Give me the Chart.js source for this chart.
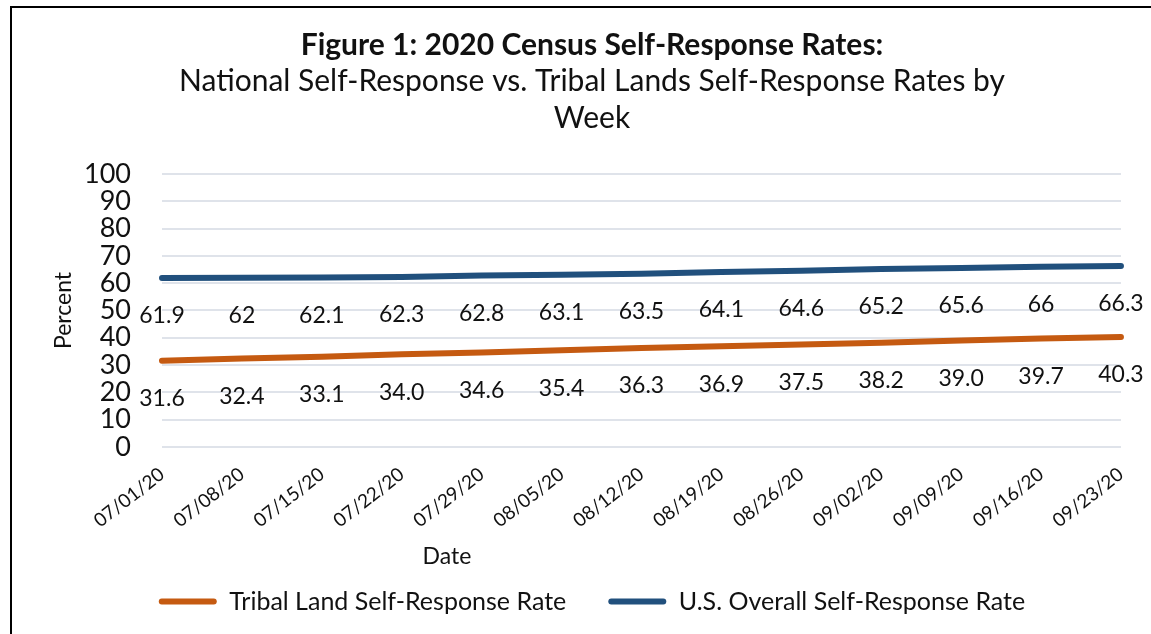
<!DOCTYPE html>
<html>
<head>
<meta charset="utf-8">
<script src="https://cdn.jsdelivr.net/npm/chart.js@4.4.1/dist/chart.umd.min.js"></script>
<style>
  html, body { margin: 0; padding: 0; background: #ffffff; }
  #wrap { width: 1151px; height: 634px; position: relative; }
</style>
</head>
<body>
<div id="wrap"><canvas id="c" width="1151" height="634"></canvas></div>
<script>
// ---- data ----
const dates = ['07/01/20','07/08/20','07/15/20','07/22/20','07/29/20','08/05/20','08/12/20','08/19/20','08/26/20','09/02/20','09/09/20','09/16/20','09/23/20'];
const tribalRates = [31.6, 32.4, 33.1, 34.0, 34.6, 35.4, 36.3, 36.9, 37.5, 38.2, 39.0, 39.7, 40.3];
const usRates = [61.9, 62, 62.1, 62.3, 62.8, 63.1, 63.5, 64.1, 64.6, 65.2, 65.6, 66, 66.3];
const yTicks = [0, 10, 20, 30, 40, 50, 60, 70, 80, 90, 100];
const titleText = 'Figure 1: 2020 Census Self-Response Rates:';
const subtitleLines = ['National Self-Response vs. Tribal Lands Self-Response Rates by', 'Week'];

const BLUE = '#21507D';
const ORANGE = '#C55A11';
const FONT = 'Lato, "Open Sans", sans-serif';

const framePlugin = {
  id: 'frame',
  beforeDraw(chart) {
    const ctx = chart.ctx;
    ctx.save();
    ctx.fillStyle = '#ffffff';
    ctx.fillRect(0, 0, chart.width, chart.height);
    ctx.fillStyle = '#000000';
    ctx.fillRect(10, 6, 2, chart.height - 6);
    ctx.fillRect(10, 6, chart.width - 10, 2);
    ctx.restore();
  }
};

const labelPlugin = {
  id: 'valueLabels',
  afterDatasetsDraw(chart) {
    const ctx = chart.ctx;
    ctx.save();
    ctx.font = '23px ' + FONT;
    ctx.fillStyle = '#111111';
    ctx.textAlign = 'center';
    ctx.textBaseline = 'middle';
    chart.data.datasets.forEach((ds, di) => {
      const meta = chart.getDatasetMeta(di);
      meta.data.forEach((pt, i) => {
        const v = ds.data[i];
        const txt = ds.decimals != null ? v.toFixed(ds.decimals) : String(v);
        ctx.fillText(txt, pt.x, pt.y + 38);
      });
    });
    ctx.restore();
  },
  afterDraw(chart) {
    const ctx = chart.ctx;
    const a = chart.chartArea;
    ctx.save();
    ctx.font = '23px ' + FONT;
    ctx.fillStyle = '#111111';
    ctx.textAlign = 'center';
    ctx.textBaseline = 'middle';
    ctx.fillText('Date', a.left + 285, 557);
    ctx.restore();
  }
};

new Chart(document.getElementById('c'), {
  type: 'line',
  data: {
    labels: dates,
    datasets: [
      {
        label: 'Tribal Land Self-Response Rate',
        data: tribalRates,
        decimals: 1,
        borderColor: ORANGE,
        backgroundColor: ORANGE,
        borderWidth: 6,
        borderCapStyle: 'round',
        borderJoinStyle: 'round',
        pointRadius: 0,
        tension: 0
      },
      {
        label: 'U.S. Overall Self-Response Rate',
        data: usRates,
        decimals: null,
        borderColor: BLUE,
        backgroundColor: BLUE,
        borderWidth: 6,
        borderCapStyle: 'round',
        borderJoinStyle: 'round',
        pointRadius: 0,
        tension: 0
      }
    ]
  },
  options: {
    responsive: false,
    animation: false,
    devicePixelRatio: 1,
    layout: { padding: { left: 52, right: 19, top: 27, bottom: 10 } },
    plugins: {
      title: {
        display: true,
        text: titleText,
        color: '#111111',
        font: { family: FONT, size: 30, weight: 'bold', lineHeight: 1.2 },
        padding: { top: 0, bottom: 0 }
      },
      subtitle: {
        display: true,
        text: subtitleLines,
        color: '#111111',
        font: { family: FONT, size: 30, weight: 'normal', lineHeight: 1.233 },
        padding: { top: 0, bottom: 37 }
      },
      legend: {
        position: 'bottom',
        labels: {
          color: '#111111',
          font: { family: FONT, size: 25 },
          boxWidth: 58,
          boxHeight: 6,
          padding: 42,
          useBorderRadius: true,
          borderRadius: 3,
          generateLabels(chart) {
            return chart.data.datasets.map((ds, i) => ({
              text: ds.label,
              fillStyle: ds.borderColor,
              strokeStyle: ds.borderColor,
              lineWidth: 0,
              hidden: false,
              datasetIndex: i,
              borderRadius: 3,
              fontColor: '#111111'
            }));
          }
        }
      },
      tooltip: { enabled: false }
    },
    scales: {
      x: {
        type: 'category',
        offset: false,
        grid: { display: false, drawTicks: false },
        border: { display: false },
        ticks: {
          autoSkip: false,
          minRotation: 38,
          maxRotation: 38,
          padding: 16,
          color: '#111111',
          font: { family: FONT, size: 19 }
        },
        afterFit(scale) { scale.height = 100; }
      },
      y: {
        min: 0,
        max: 100,
        afterBuildTicks(scale) { scale.ticks = yTicks.map(v => ({ value: v })); },
        grid: { color: '#dfe3ea', lineWidth: 2, drawTicks: false },
        border: { display: false },
        ticks: {
          autoSkip: false,
          padding: 31,
          color: '#111111',
          font: { family: FONT, size: 27 }
        },
        title: {
          display: true,
          text: 'Percent',
          color: '#111111',
          font: { family: FONT, size: 23, lineHeight: 1 },
          padding: { top: 0, bottom: 0 }
        },
        afterFit(scale) { scale.width = 110; }
      }
    }
  },
  plugins: [framePlugin, labelPlugin]
});
</script>
</body>
</html>
